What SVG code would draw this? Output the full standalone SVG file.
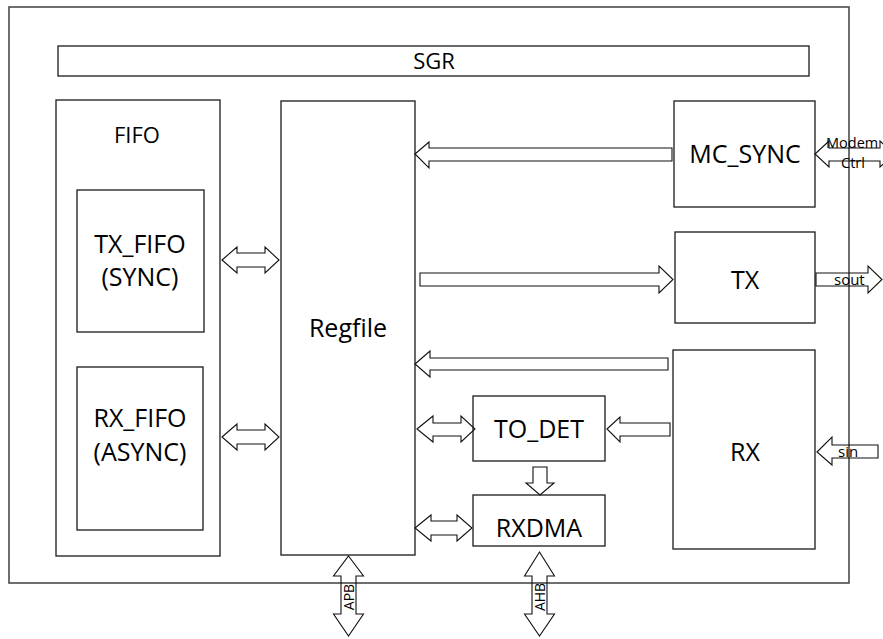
<svg xmlns="http://www.w3.org/2000/svg" width="883" height="639" viewBox="0 0 883 639">
<style>
.box{fill:#fff;stroke:#1a1a1a;stroke-width:1.3}
.outer{fill:#fff;stroke:#4a4a4a;stroke-width:1.6}
.arr{fill:none;stroke:#111;stroke-width:1.1;stroke-linejoin:miter}
text{font-family:"Open Sans","Liberation Sans",sans-serif;fill:#000}
.big{font-size:25px;text-anchor:middle}
.mid{font-size:22px;text-anchor:middle}
.sm{font-size:14.5px}
.sig{font-size:15px}
.bus{font-size:14px;text-anchor:middle}
</style>
<rect width="883" height="639" fill="#fff"/>
<g id="outer"><rect class="outer" x="9" y="7" width="840" height="576"/></g>
<g id="sgr"><rect class="box" x="58" y="46" width="751" height="30"/><text class="mid" x="434" y="69">SGR</text></g>
<g id="fifo"><rect class="box" x="56" y="100" width="164" height="456"/><text class="mid" x="137" y="143">FIFO</text></g>
<g id="tx_fifo"><rect class="box" x="77" y="190" width="127" height="142"/><text class="big" x="140" y="253">TX_FIFO</text><text class="big" x="140" y="286">(SYNC)</text></g>
<g id="rx_fifo"><rect class="box" x="77" y="367" width="126" height="163"/><text class="big" x="140" y="427">RX_FIFO</text><text class="big" x="140" y="461">(ASYNC)</text></g>
<g id="regfile"><rect class="box" x="281" y="101" width="134" height="454"/><text class="big" x="348" y="337">Regfile</text></g>
<g id="mc_sync"><rect class="box" x="674" y="101" width="141" height="106"/><text class="big" x="745" y="163">MC_SYNC</text></g>
<g id="tx"><rect class="box" x="675" y="232" width="140" height="91"/><text class="big" x="745" y="289">TX</text></g>
<g id="rx"><rect class="box" x="673" y="350" width="142" height="199"/><text class="big" x="745" y="461">RX</text></g>
<g id="to_det"><rect class="box" x="473" y="396" width="132" height="65"/><text class="big" x="539" y="438">TO_DET</text></g>
<g id="rxdma"><rect class="box" x="473" y="495" width="132" height="51"/><text class="big" x="539" y="537">RXDMA</text></g>
<g id="connectors">
<polygon class="arr" points="415,154 429,142 429,148 672,148 672,161 429,161 429,168"/>
<polygon class="arr" points="420,273 659,273 659,266 673,279.5 659,293 659,286 420,286"/>
<polygon class="arr" points="415,364 430,351 430,358 668,358 668,370 430,370 430,377"/>
<polygon class="arr" points="222,260 237,247 237,253 265,253 265,247 279,260 265,273 265,267 237,267 237,273"/>
<polygon class="arr" points="222,437 237,424 237,430 265,430 265,424 279,437 265,450 265,444 237,444 237,450"/>
<polygon class="arr" points="417,429 433,416 433,423 461,423 461,416 475,429 461,442 461,436 433,436 433,442"/>
<polygon class="arr" points="607,429 620,417 620,423 670,423 670,436 620,436 620,442"/>
<polygon class="arr" points="533,467 547,467 547,483 554,483 540,495 526,483 533,483"/>
<polygon class="arr" points="415,528 431,515 431,521 457,521 457,515 472,528 457,541 457,535 431,535 431,541"/>
<polygon class="arr" points="815,154 829,141 829,148 880,148 880,141 894,154 880,167 880,161 829,161 829,167"/>
<polygon class="arr" points="816,273 868,273 868,266 882,279.5 868,293 868,286 816,286"/>
<polygon class="arr" points="817,452 832,437 832,445 878,445 878,458 832,458 832,465"/>
<polygon class="arr" points="348.5,556 363.5,576 356,576 356,614 363.5,614 348.5,636 333.5,614 341,614 341,576 333.5,576"/>
<polygon class="arr" points="539.5,552 554.5,576 547,576 547,614 554.5,614 539.5,636 524.5,614 532,614 532,576 524.5,576"/>
<text class="sm" x="826" y="148">Modem</text>
<text class="sm" x="841" y="168">Ctrl</text>
<text class="sig" x="834" y="285">sout</text>
<text class="sig" x="838" y="457">sin</text>
<text class="bus" transform="translate(353.5,597) rotate(-90)">APB</text>
<text class="bus" transform="translate(544.5,597) rotate(-90)">AHB</text>
</g>
</svg>
